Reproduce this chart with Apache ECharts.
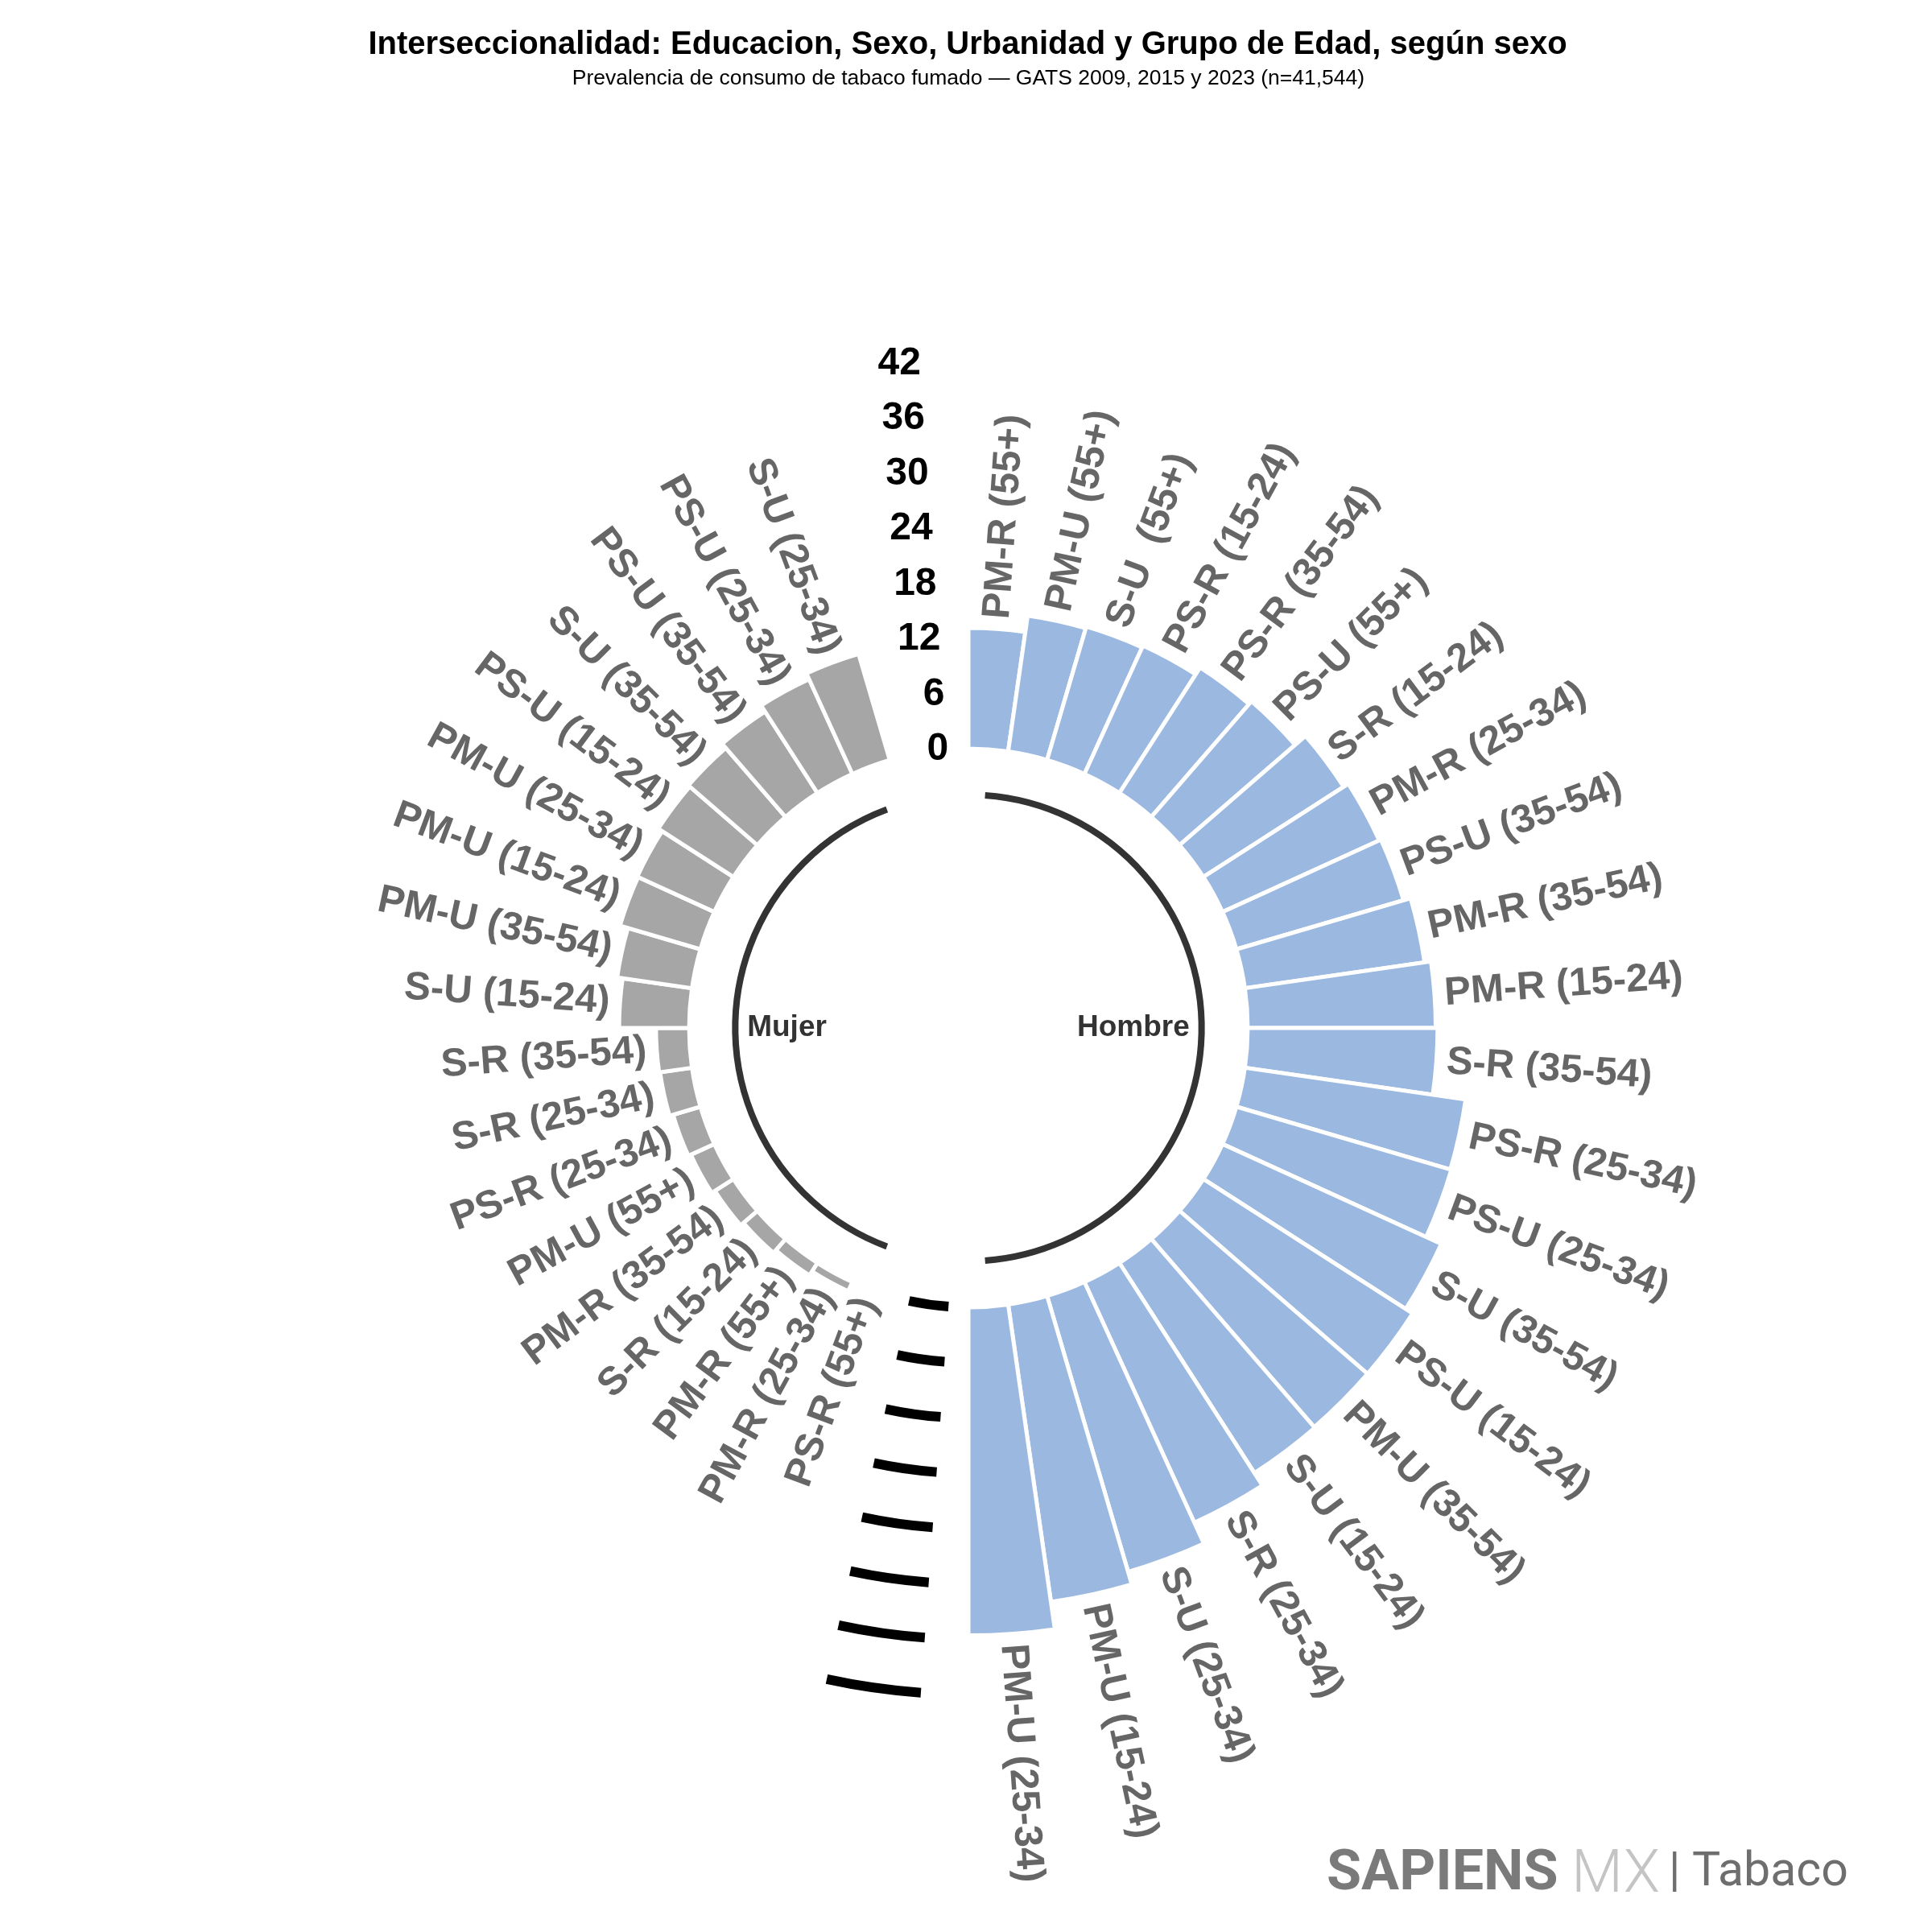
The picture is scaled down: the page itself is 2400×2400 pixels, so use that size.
<!DOCTYPE html>
<html><head><meta charset="utf-8">
<script src="https://cdn.jsdelivr.net/npm/echarts@6/dist/echarts.min.js"></script>
<style>html,body{margin:0;padding:0;background:#fff}#c{width:2400px;height:2400px}</style>
</head><body><div id="c"></div>
<script>
// ---- data ----
const hombreLabels = ['PM-R (55+)','PM-U (55+)','S-U  (55+)','PS-R (15-24)','PS-R (35-54)','PS-U (55+)','S-R (15-24)','PM-R (25-34)','PS-U (35-54)','PM-R (35-54)','PM-R (15-24)','S-R (35-54)','PS-R (25-34)','PS-U (25-34)','S-U (35-54)','PS-U (15-24)','PM-U (35-54)','S-U (15-24)','S-R (25-34)','S-U (25-34)','PM-U (15-24)','PM-U (25-34)'];
const hombreValues = [13.1,14.9,15.1,15.3,16.2,16.6,18.1,18.7,18.9,19.7,20.4,20.6,24.2,24.3,26.1,27.0,27.0,27.1,28.7,31.2,32.6,35.6];
const mujerLabels = ['PS-R (55+)','PM-R (25-34)','PM-R (55+)','S-R (15-24)','PM-R (35-54)','PM-U (55+)','PS-R (25-34)','S-R (25-34)','S-R (35-54)','S-U (15-24)','PM-U (35-54)','PM-U (15-24)','PM-U (25-34)','PS-U (15-24)','S-U (35-54)','PS-U (35-54)','PS-U (25-34)','S-U (25-34)'];
const mujerValues = [0.0,1.1,1.6,2.0,2.4,2.8,3.1,3.5,3.6,7.6,8.2,9.1,9.2,9.7,9.9,10.5,11.3,12.0];
const tickValues = [0,6,12,18,24,30,36,42];
const tickLabels = ['0','6','12','18','24','30','36','42'];
const groupNames = ['Hombre','Mujer'];
const groupColors = ['#9BB8E0','#A6A6A6'];

// ---- layout helpers (slots around the circle) ----
const EMPTY = 2;
const hStart = 0, mStart = hombreValues.length + EMPTY;
const NSLOTS = hombreValues.length + mujerValues.length + 2*EMPTY;
const FONT = '"Liberation Sans", Arial, Helvetica, sans-serif';

const barData = [];
hombreValues.forEach((v,i)=>barData.push([v, hStart+i+0.5, 0, i]));
mujerValues.forEach((v,i)=>barData.push([v, mStart+i+0.5, 1, i]));
const allLabels = [hombreLabels, mujerLabels];

const tickData = tickValues.map((v,i)=>[v, NSLOTS-0.5, i]);
const dashData = tickValues.map(v=>[v, hombreValues.length+0.5, hombreValues.length+1.5]);
const arcData = [[-5, hStart+0.5, hStart+hombreValues.length-0.5, 0],[-5, mStart+0.5, mStart+mujerValues.length-0.5, 1]];
const groupTextData = [[-6.3, hStart+(hombreValues.length-1)/2+0.5, 0],[-6.3, mStart+(mujerValues.length-1)/2+0.5, 1]];

function pol(api, cs, r, a){
  const p = api.coord([r, a]);
  return {x:p[0], y:p[1], d:Math.hypot(p[0]-cs.cx, p[1]-cs.cy), ang:Math.atan2(p[1]-cs.cy, p[0]-cs.cx)};
}

const chart = echarts.init(document.getElementById('c'), null, {renderer:'canvas'});
chart.setOption({
  animation:false,
  backgroundColor:'#ffffff',
  title:[
    {text:'Interseccionalidad: Educacion, Sexo, Urbanidad y Grupo de Edad, según sexo', left:1197, top:31, textAlign:'center',
     textStyle:{fontFamily:FONT, fontWeight:'bold', fontSize:40, color:'#000'}},
    {text:'Prevalencia de consumo de tabaco fumado — GATS 2009, 2015 y 2023 (n=41,544)', left:1198, top:79, textAlign:'center',
     textStyle:{fontFamily:FONT, fontWeight:'normal', fontSize:26.5, color:'#000'}}
  ],
  polar:{center:[1203,1277], radius:[0, 11.45*80.3]},
  angleAxis:{type:'value', min:0, max:NSLOTS, startAngle:90, clockwise:true, show:false,
    axisLine:{show:false}, axisTick:{show:false}, axisLabel:{show:false}, splitLine:{show:false}},
  radiusAxis:{type:'value', min:-30.3, max:50, show:false,
    axisLine:{show:false}, axisTick:{show:false}, axisLabel:{show:false}, splitLine:{show:false}},
  series:[
    { // bars
      type:'custom', coordinateSystem:'polar', data:barData, dimensions:['radius','angle','g','i'],
      encode:{radius:0, angle:1},
      renderItem(params, api){
        const cs = params.coordSys;
        const v = api.value(0), a = api.value(1), g = api.value(2);
        const inner = pol(api, cs, 0, a-0.5), outer = pol(api, cs, v, a+0.5);
        let sa = inner.ang, ea = outer.ang; if (ea < sa) ea += 2*Math.PI;
        return {type:'sector', shape:{cx:cs.cx, cy:cs.cy, r0:inner.d, r:outer.d, startAngle:sa, endAngle:ea, clockwise:true},
          style:{fill:groupColors[g], stroke:'#ffffff', lineWidth:5}};
      }
    },
    { // bar labels
      type:'custom', coordinateSystem:'polar', data:barData, dimensions:['radius','angle','g','i'],
      encode:{radius:0, angle:1}, z:3,
      renderItem(params, api){
        const cs = params.coordSys;
        const v = api.value(0), a = api.value(1), g = api.value(2), i = api.value(3);
        const p = pol(api, cs, v+1.1, a);
        const right = Math.cos(p.ang) >= 0;
        const rot = right ? -p.ang : -(p.ang+Math.PI);
        return {type:'text', x:p.x, y:p.y, rotation:rot,
          style:{text:allLabels[g][i], align:right?'left':'right', verticalAlign:'middle', textAlign:right?'left':'right', textVerticalAlign:'middle',
            fill:'#666666', font:'bold 49px '+FONT}};
      }
    },
    { // radial tick labels
      type:'custom', coordinateSystem:'polar', data:tickData, dimensions:['radius','angle','i'],
      encode:{radius:0, angle:1}, z:3,
      renderItem(params, api){
        const cs = params.coordSys;
        const p = pol(api, cs, api.value(0), api.value(1));
        return {type:'text', x:p.x, y:p.y,
          style:{text:tickLabels[api.value(2)], align:'right', verticalAlign:'middle', textAlign:'right', textVerticalAlign:'middle',
            fill:'#000000', font:'bold 48px '+FONT}};
      }
    },
    { // grid dashes in the gap
      type:'custom', coordinateSystem:'polar', data:dashData, dimensions:['radius','angle','angle2'],
      encode:{radius:0, angle:1}, z:2,
      renderItem(params, api){
        const cs = params.coordSys;
        const p1 = pol(api, cs, api.value(0), api.value(1)), p2 = pol(api, cs, api.value(0), api.value(2));
        let sa = p1.ang, ea = p2.ang; if (ea < sa) ea += 2*Math.PI;
        return {type:'arc', shape:{cx:cs.cx, cy:cs.cy, r:p1.d, startAngle:sa, endAngle:ea, clockwise:true},
          style:{stroke:'#000000', lineWidth:12, fill:null, lineCap:'butt'}};
      }
    },
    { // group arcs
      type:'custom', coordinateSystem:'polar', data:arcData, dimensions:['radius','angle','angle2','g'],
      encode:{radius:0, angle:1}, z:2,
      renderItem(params, api){
        const cs = params.coordSys;
        const p1 = pol(api, cs, api.value(0), api.value(1)), p2 = pol(api, cs, api.value(0), api.value(2));
        let sa = p1.ang, ea = p2.ang; if (ea < sa) ea += 2*Math.PI;
        return {type:'arc', shape:{cx:cs.cx, cy:cs.cy, r:p1.d, startAngle:sa, endAngle:ea, clockwise:true},
          style:{stroke:'#333333', lineWidth:8, fill:null, lineCap:'butt'}};
      }
    },
    { // group names
      type:'custom', coordinateSystem:'polar', data:groupTextData, dimensions:['radius','angle','g'],
      encode:{radius:0, angle:1}, z:3,
      renderItem(params, api){
        const cs = params.coordSys;
        const g = api.value(2);
        const p = pol(api, cs, api.value(0), api.value(1));
        return {type:'text', x:p.x, y:p.y,
          style:{text:groupNames[g], align:g===0?'right':'left', verticalAlign:'middle', textAlign:g===0?'right':'left', textVerticalAlign:'middle',
            fill:'#333333', font:'bold 37px '+FONT}};
      }
    }
  ],
  graphic:[
    {type:'text', left:1648, top:2294, style:{text:'SAPIENS', font:'bold 70px Roboto, '+FONT, fill:'#7a7a7a'}},
    {type:'text', left:1952, top:2294, style:{text:'MX', font:'300 74px Roboto, '+FONT, fill:'#c4c4c4'}},
    {type:'text', left:2073, top:2298, style:{text:'| Tabaco', font:'normal 59px Roboto, '+FONT, fill:'#6e6e6e'}}
  ]
});
</script></body></html>
